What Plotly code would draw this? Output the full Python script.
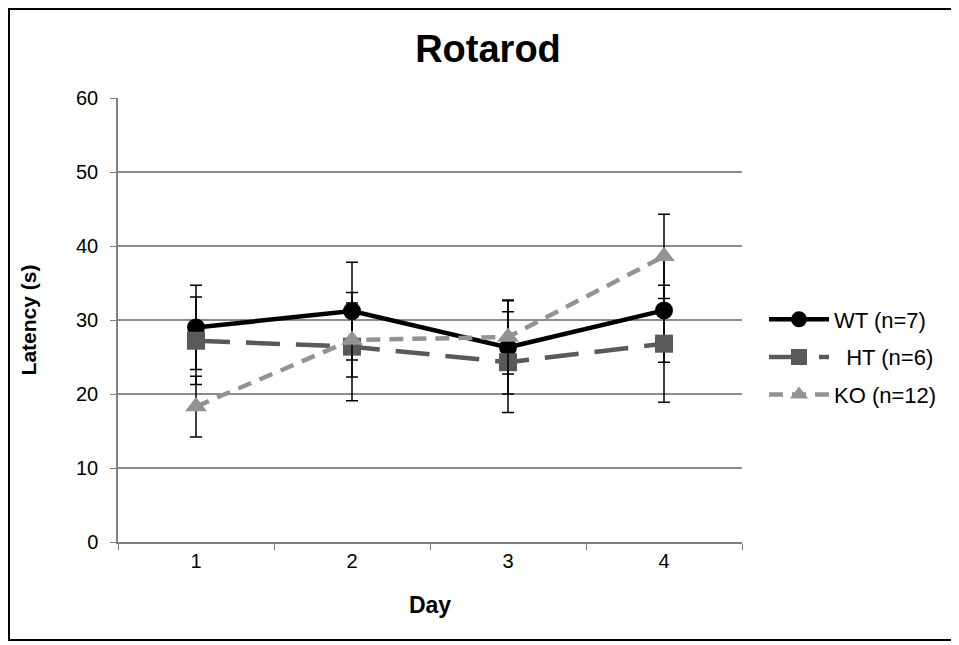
import plotly.graph_objects as go

days = ["1", "2", "3", "4"]
wt = [29.0, 31.2, 26.3, 31.3]
wt_err = [5.7, 6.6, 6.3, 7.0]
ht = [27.2, 26.4, 24.3, 26.8]
ht_err = [5.9, 7.3, 6.8, 7.9]
ko = [18.3, 27.3, 27.7, 38.6]
ko_err = [4.1, 5.0, 5.0, 5.7]

names = ["WT (n=7)", "\u00a0\u00a0HT (n=6)", "KO (n=12)"]

# page has an 8px body offset; figure coordinates below are page - 8
W, H = 951, 637
L, R, T, B = 110, 734, 90, 534
PW, PH = R - L, B - T

fig = go.Figure()
specs = [
    (wt, wt_err, names[0], "black", "solid", "circle", 18),
    (ht, ht_err, names[1], "#595959", "34px,16px", "square", 18),
    (ko, ko_err, names[2], "#939393", "14px,9px", "triangle-up", 19),
]
for i, (vals, errs, nm, col, dash, sym, ms) in enumerate(specs):
    fig.add_trace(go.Scatter(
        x=days, y=vals, name=nm, mode="lines+markers", legendgroup=f"g{i}",
        line=dict(color=col, width=4.5, dash=dash),
        marker=dict(symbol=sym, size=ms, color=col),
        error_y=dict(type="data", array=errs, visible=True, color="black",
                     thickness=1.5, width=6),
    ))

fig.update_layout(
    width=W, height=H,
    margin=dict(l=L, r=W - R, t=T, b=H - B),
    paper_bgcolor="white", plot_bgcolor="white",
    font=dict(family="Liberation Sans, Arial, sans-serif", color="black"),
    title=dict(text="<b>Rotarod</b>", x=480 / W, xanchor="center",
               y=1 - 41 / H, yanchor="middle", font=dict(size=38)),
    showlegend=True,
    legend=dict(x=(756 - L) / PW, xanchor="left",
                y=(B - 349) / PH, yanchor="middle", traceorder="grouped",
                font=dict(size=22), itemwidth=60, tracegroupgap=6,
                bgcolor="rgba(0,0,0,0)"),
)
fig.update_xaxes(
    type="category", range=[-0.5, 3.5], tickson="boundaries",
    ticks="outside", ticklen=6,
    tickcolor="#808080", showline=True, linecolor="#808080", linewidth=1.5,
    showgrid=False, tickfont=dict(size=20),
    title=dict(text="<b>Day</b>", font=dict(size=23), standoff=26),
)
fig.update_yaxes(
    range=[0, 60], dtick=10, ticks="outside", ticklen=6, tickcolor="#808080",
    showline=True, linecolor="#808080", linewidth=1.5,
    showgrid=True, gridcolor="#8c8c8c", gridwidth=1.5, zeroline=False,
    tickfont=dict(size=20), ticklabelstandoff=8,
    title=dict(text="<b>Latency (s)</b>", font=dict(size=21), standoff=34),
)
# outer border
fig.add_shape(type="rect", xref="paper", yref="paper",
              x0=(1 - L) / PW, x1=(949 - L) / PW,
              y0=(B - 632) / PH, y1=(B - 1) / PH,
              line=dict(color="black", width=2), fillcolor="rgba(0,0,0,0)",
              layer="below")

fig.write_html("out.html")
